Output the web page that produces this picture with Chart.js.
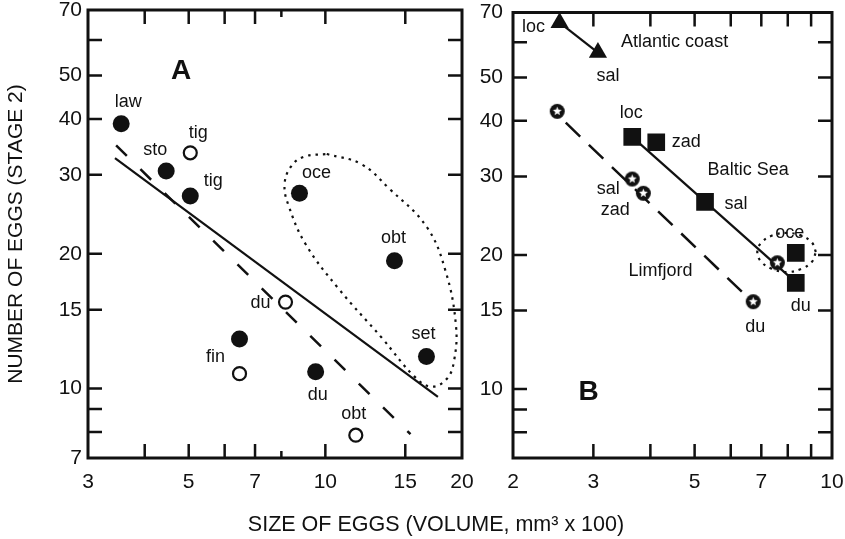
<!DOCTYPE html>
<html>
<head>
<meta charset="utf-8">
<script src="https://cdn.jsdelivr.net/npm/chart.js@4.4.1/dist/chart.umd.min.js"></script>
<style>
html, body { margin: 0; padding: 0; background: #fff; }
#wrap { position: relative; width: 845px; height: 539px; overflow: hidden; }
#chartA { position: absolute; left: 0; top: 0; }
#chartB { position: absolute; left: 470px; top: 0; }
#xtitle { position: absolute; left: 0; width: 872px; top: 512px; text-align: center;
  font: 21.5px 'Liberation Sans', Arial, sans-serif; color: #111; }
</style>
</head>
<body>
<div id="wrap">
  <canvas id="chartA" width="482" height="539"></canvas>
  <canvas id="chartB" width="375" height="539"></canvas>
  <div id="xtitle">SIZE OF EGGS (VOLUME, mm³ x 100)</div>
</div>
<script>
// ---- panel A ----
const aFilledNames = ['law', 'sto', 'tig', 'oce', 'obt', 'set', '', 'du'];
const aFilledX = [3.55, 4.46, 5.04, 8.77, 14.2, 16.7, 6.47, 9.52];
const aFilledY = [39.0, 30.6, 26.9, 27.3, 19.3, 11.8, 12.9, 10.9];
const aOpenNames = ['tig', 'du', 'fin', 'obt'];
const aOpenX = [5.04, 8.17, 6.47, 11.67];
const aOpenY = [33.6, 15.6, 10.8, 7.87];
const aSolidX = [3.44, 17.7];
const aSolidY = [32.7, 9.58];
const aDashX = [3.46, 15.4];
const aDashY = [34.9, 7.91];
const aLoopX = [10.07, 12.0, 13.8, 16.7, 18.4, 19.4, 19.2, 18.5, 17.1, 15.7, 13.3, 10.7, 9.05, 8.3, 8.13, 8.38, 8.95, 10.07];
const aLoopY = [33.4, 31.7, 28.0, 23.0, 18.3, 13.8, 11.5, 10.5, 10.1, 10.65, 13.0, 16.7, 21.0, 25.6, 28.5, 31.2, 32.9, 33.4];
const aXLabels = [3, 5, 7, 10, 15, 20];
const aXTicks = [4, 5, 6, 7, 8, 10, 15];
const aYLabels = [7, 10, 15, 20, 30, 40, 50, 70];

// ---- panel B ----
const bTriNames = ['loc', 'sal'];
const bTriX = [2.53, 3.07];
const bTriY = [66.4, 56.9];
const bSqNames = ['loc', 'zad', 'sal', 'oce', 'du'];
const bSqX = [3.65, 4.12, 5.27, 8.33, 8.33];
const bSqY = [36.8, 35.8, 26.3, 20.2, 17.3];
const bStarNames = ['', 'sal', 'zad', '', 'du'];
const bStarX = [2.50, 3.65, 3.86, 7.59, 6.72];
const bStarY = [42.0, 29.6, 27.5, 19.2, 15.7];
const bBalticX = [3.65, 8.1];
const bBalticY = [36.8, 17.8];
const bLimX = [2.61, 6.52];
const bLimY = [39.6, 16.1];
const bLoopX = [9.22, 9.04, 8.56, 7.95, 7.39, 7.00, 6.86, 7.00, 7.39, 7.95, 8.56, 9.04, 9.22];
const bLoopY = [20.3, 21.3, 22.1, 22.4, 22.1, 21.3, 20.3, 19.3, 18.6, 18.3, 18.6, 19.3, 20.3];
const bXLabels = [2, 3, 5, 7, 10];
const bXTicks = [3, 4, 5, 6, 7, 8, 9];
const bYLabels = [10, 15, 20, 30, 40, 50, 70];

const yTicks = [8, 9, 10, 15, 20, 30, 40, 50, 60];

// label placement (px from the point)
const aFilledOff = [[7, -22], [-11, -21], [23, -15], [17, -20], [-1, -23], [-3, -22], [0, 0], [2, 23]];
const aOpenOff = [[8, -20], [-25, 1], [-24, -17], [-2, -21]];
const bTriOff = [[-26, 4], [10, 23]];
const bSqOff = [[-1, -24], [30, 0], [31, 2], [-6, -20], [5, 23]];
const bStarOff = [[0, 0], [-24, 10], [-28, 17], [0, 0], [2, 25]];

const INK = '#111';
const FONT = "'Liberation Sans', Arial, sans-serif";

const pts = (xs, ys) => xs.map((x, i) => ({x: x, y: ys[i]}));

function starMark(r) {
    const s = Math.ceil(r * 2 + 2);
    const c = document.createElement('canvas');
    c.width = s; c.height = s;
    const g = c.getContext('2d');
    const m = s / 2;
    g.fillStyle = INK;
    g.beginPath(); g.arc(m, m, r, 0, Math.PI * 2); g.fill();
    g.fillStyle = '#fff';
    g.beginPath();
    for (let k = 0; k < 10; k++) {
        const rr = k % 2 ? r * 0.27 : r * 0.62;
        const a = -Math.PI / 2 + k * Math.PI / 5;
        g.lineTo(m + rr * Math.cos(a), m + rr * Math.sin(a));
    }
    g.closePath(); g.fill();
    return c;
}

// box and inward tick marks on all four sides
function frame(xTicks, xShort) {
    return {
        id: 'frame',
        afterDraw(chart) {
            const {ctx, chartArea: a} = chart;
            const x = chart.scales.x, y = chart.scales.y;
            ctx.save();
            ctx.strokeStyle = INK;
            ctx.lineWidth = 3;
            ctx.strokeRect(a.left, a.top, a.right - a.left, a.bottom - a.top);
            ctx.lineWidth = 2.5;
            ctx.beginPath();
            xTicks.forEach(v => {
                const px = x.getPixelForValue(v);
                const len = xShort.includes(v) ? 7 : 14;
                ctx.moveTo(px, a.bottom); ctx.lineTo(px, a.bottom - len);
                ctx.moveTo(px, a.top); ctx.lineTo(px, a.top + len);
            });
            yTicks.forEach(v => {
                const py = y.getPixelForValue(v);
                ctx.moveTo(a.left, py); ctx.lineTo(a.left + 14, py);
                ctx.moveTo(a.right, py); ctx.lineTo(a.right - 14, py);
            });
            ctx.stroke();
            ctx.restore();
        }
    };
}

// point names and free notes
function tags(notes) {
    return {
        id: 'tags',
        afterDatasetsDraw(chart) {
            const ctx = chart.ctx;
            const x = chart.scales.x, y = chart.scales.y;
            ctx.save();
            ctx.fillStyle = INK;
            ctx.textAlign = 'center';
            ctx.textBaseline = 'middle';
            ctx.font = '18px ' + FONT;
            chart.data.datasets.forEach((ds, i) => {
                if (!ds.names) return;
                const meta = chart.getDatasetMeta(i);
                ds.names.forEach((t, j) => {
                    if (!t) return;
                    const p = meta.data[j];
                    ctx.fillText(t, p.x + ds.nameOff[j][0], p.y + ds.nameOff[j][1]);
                });
            });
            notes.forEach(n => {
                ctx.font = n.big ? 'bold 28px ' + FONT : '18px ' + FONT;
                ctx.fillText(n.text, x.getPixelForValue(n.x), y.getPixelForValue(n.y));
            });
            ctx.restore();
        }
    };
}

function axes(xMin, xMax, xLabels, yLabels, yWidth, yPad, yTitle) {
    const tickFont = {family: FONT, size: 21};
    return {
        x: {
            type: 'logarithmic', min: xMin, max: xMax,
            grid: {display: false, drawTicks: false},
            border: {display: false},
            afterBuildTicks: s => { s.ticks = xLabels.map(v => ({value: v})); },
            afterFit: s => { s.height = 81; s.paddingLeft = 0; s.paddingRight = 0; },
            ticks: {color: INK, font: tickFont, padding: 12, autoSkip: false, maxRotation: 0,
                callback: v => String(v)}
        },
        y: {
            type: 'logarithmic', min: 7, max: 70,
            grid: {display: false, drawTicks: false},
            border: {display: false},
            afterBuildTicks: s => { s.ticks = yLabels.map(v => ({value: v})); },
            afterFit: s => { s.width = yWidth; s.paddingTop = 0; s.paddingBottom = 0; },
            ticks: {color: INK, font: tickFont, padding: yPad, autoSkip: false,
                callback: v => String(v)},
            title: {display: !!yTitle, text: yTitle, color: INK, font: {family: FONT, size: 21},
                padding: {top: 4, bottom: 0}}
        }
    };
}

const base = {
    responsive: false,
    animation: false,
    events: [],
    plugins: {legend: {display: false}, tooltip: {enabled: false}}
};

new Chart(document.getElementById('chartA'), {
    type: 'scatter',
    data: {
        datasets: [
            {data: pts(aFilledX, aFilledY), names: aFilledNames, nameOff: aFilledOff,
                pointRadius: 8.5, backgroundColor: INK, borderWidth: 0, order: 1},
            {data: pts(aOpenX, aOpenY), names: aOpenNames, nameOff: aOpenOff,
                pointRadius: 6.5, backgroundColor: '#fff', borderColor: INK, borderWidth: 2.2, order: 1},
            {data: pts(aSolidX, aSolidY), showLine: true, pointRadius: 0, borderColor: INK,
                borderWidth: 2.2, order: 5},
            {data: pts(aDashX, aDashY), showLine: true, pointRadius: 0, borderColor: INK,
                borderWidth: 2.5, borderDash: [15, 19], order: 5},
            {data: pts(aLoopX, aLoopY), showLine: true, pointRadius: 0, borderColor: INK,
                borderWidth: 2.2, borderDash: [2.5, 5], tension: 0.4, order: 5}
        ]
    },
    options: Object.assign({}, base, {
        layout: {padding: {top: 10, right: 20, left: 0, bottom: 0}},
        scales: axes(3, 20, aXLabels, aYLabels, 88, 6, 'NUMBER OF EGGS (STAGE 2)')
    }),
    plugins: [frame(aXTicks, [8]), tags([{text: 'A', x: 4.81, y: 51.1, big: true}])]
});

new Chart(document.getElementById('chartB'), {
    type: 'scatter',
    data: {
        datasets: [
            {data: pts(bTriX, bTriY), names: bTriNames, nameOff: bTriOff, showLine: true,
                pointStyle: 'triangle', pointRadius: 10.5, backgroundColor: INK, borderColor: INK,
                borderWidth: 2.2, pointBorderWidth: 0, order: 1},
            {data: pts(bSqX, bSqY), names: bSqNames, nameOff: bSqOff,
                pointStyle: 'rect', pointRadius: 12.5, backgroundColor: INK, borderWidth: 0, order: 1},
            {data: pts(bStarX, bStarY), names: bStarNames, nameOff: bStarOff,
                pointStyle: starMark(7.5), pointRadius: 8, order: 1},
            {data: pts(bBalticX, bBalticY), showLine: true, pointRadius: 0, borderColor: INK,
                borderWidth: 2.2, order: 5},
            {data: pts(bLimX, bLimY), showLine: true, pointRadius: 0, borderColor: INK,
                borderWidth: 2.5, borderDash: [20, 12], order: 5},
            {data: pts(bLoopX, bLoopY), showLine: true, pointRadius: 0, borderColor: INK,
                borderWidth: 2.2, borderDash: [2.5, 5], tension: 0.4, order: 5}
        ]
    },
    options: Object.assign({}, base, {
        layout: {padding: {top: 10, right: 13, left: 0, bottom: 0}},
        scales: axes(2, 10, bXLabels, bYLabels, 43, 10, '')
    }),
    plugins: [frame(bXTicks, []), tags([
        {text: 'Atlantic coast', x: 4.52, y: 60.0},
        {text: 'Baltic Sea', x: 6.55, y: 31.0},
        {text: 'Limfjord', x: 4.21, y: 18.4},
        {text: 'B', x: 2.93, y: 9.84, big: true}
    ])]
});
</script>
</body>
</html>
